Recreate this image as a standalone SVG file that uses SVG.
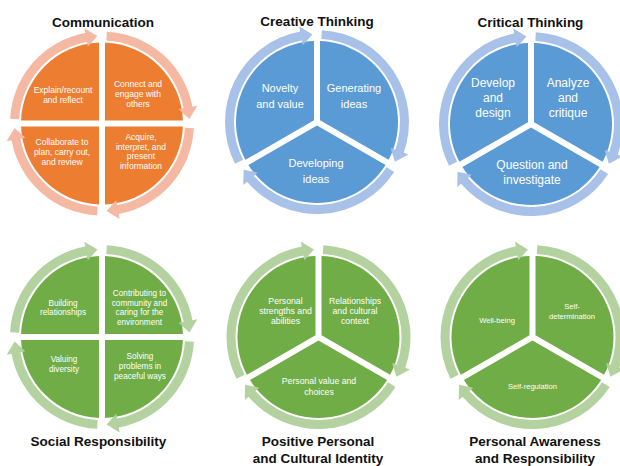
<svg xmlns="http://www.w3.org/2000/svg" width="620" height="466" viewBox="0 0 620 466">
<style>
.po{fill:#ED7D31}
.pb{fill:#5B9BD5}
.pg{fill:#70AD47}
.ro{fill:#F5B8A2}
.rb{fill:#A7C1E8}
.rg{fill:#B3D2A0}
.t{font-family:"Liberation Sans",Arial,sans-serif;fill:#ffffff;text-anchor:middle}
.s85{font-size:8.5px}
.s82{font-size:8.2px}
.s87{font-size:8.7px}
.s76{font-size:7.6px}
.s11{font-size:11px}
.s12{font-size:12px}
.h{font-family:"Liberation Sans",Arial,sans-serif;font-weight:bold;font-size:13.5px;fill:#111111;text-anchor:middle}
</style>
<defs>
<path id="w4" d="M3 3 L80.944 3 A81 81 0 0 1 3 80.944 Z"/>
<path id="w3" d="M1.732 3 L80.944 3 A81 81 0 0 1 -37.874 71.596 Z"/>
<path id="a4" d="M91.874 4.815 A92 92 0 0 1 16.766 90.459 L17.677 95.375 L4.580 87.380 L14.215 76.694 L15.126 81.610 A83 83 0 0 0 82.886 4.344 Z"/>
<path id="a3" d="M91.874 4.815 A92 92 0 0 1 -30.711 86.723 L-32.380 91.436 L-39.724 77.963 L-26.037 73.526 L-27.706 78.239 A83 83 0 0 0 82.886 4.344 Z"/>
</defs>
<rect width="620" height="466" fill="#ffffff"/>

<!-- Communication -->
<g id="communication">
  <text class="h" x="103" y="27">Communication</text>
  <g id="comm-explain">
    <use href="#w4" class="po" transform="translate(102 123.5) rotate(180)"/>
    <text class="t s85" x="63" y="93">Explain/recount</text>
    <text class="t s85" x="63" y="102.5">and reflect</text>
  </g>
  <g id="comm-connect">
    <use href="#w4" class="po" transform="translate(102 123.5) rotate(270)"/>
    <text class="t s85" x="138" y="87">Connect and</text>
    <text class="t s85" x="138" y="97">engage with</text>
    <text class="t s85" x="138" y="107">others</text>
  </g>
  <g id="comm-acquire">
    <use href="#w4" class="po" transform="translate(102 123.5)"/>
    <text class="t s85" x="141" y="139.5">Acquire,</text>
    <text class="t s85" x="141" y="149.5">interpret, and</text>
    <text class="t s85" x="141" y="159">present</text>
    <text class="t s85" x="141" y="168.5">information</text>
  </g>
  <g id="comm-collaborate">
    <use href="#w4" class="po" transform="translate(102 123.5) rotate(90)"/>
    <text class="t s85" x="62" y="145">Collaborate to</text>
    <text class="t s85" x="62" y="155">plan, carry out,</text>
    <text class="t s85" x="62" y="165">and review</text>
  </g>
</g>

<!-- Creative Thinking -->
<g id="creative-thinking">
  <text class="h" x="317" y="26">Creative Thinking</text>
  <g id="ct-novelty">
    <use href="#w3" class="pb" transform="translate(317 122) rotate(150)"/>
    <text class="t s11" x="280" y="92">Novelty</text>
    <text class="t s11" x="280" y="108">and value</text>
  </g>
  <g id="ct-generating">
    <use href="#w3" class="pb" transform="translate(317 122) rotate(270)"/>
    <text class="t s11" x="354" y="92">Generating</text>
    <text class="t s11" x="354" y="108">ideas</text>
  </g>
  <g id="ct-developing">
    <use href="#w3" class="pb" transform="translate(317 122) rotate(30)"/>
    <text class="t s11" x="316" y="167">Developing</text>
    <text class="t s11" x="316" y="183">ideas</text>
  </g>
</g>

<!-- Critical Thinking -->
<g id="critical-thinking">
  <text class="h" x="530.5" y="27">Critical Thinking</text>
  <g id="crt-develop">
    <use href="#w3" class="pb" transform="translate(531 124) rotate(150)"/>
    <text class="t s12" x="493" y="86.5">Develop</text>
    <text class="t s12" x="493" y="101.5">and</text>
    <text class="t s12" x="493" y="116.5">design</text>
  </g>
  <g id="crt-analyze">
    <use href="#w3" class="pb" transform="translate(531 124) rotate(270)"/>
    <text class="t s12" x="568" y="86.5">Analyze</text>
    <text class="t s12" x="568" y="101.5">and</text>
    <text class="t s12" x="568" y="116.5">critique</text>
  </g>
  <g id="crt-question">
    <use href="#w3" class="pb" transform="translate(531 124) rotate(30)"/>
    <text class="t s12" x="532" y="168.5">Question and</text>
    <text class="t s12" x="532" y="184">investigate</text>
  </g>
</g>

<!-- Social Responsibility -->
<g id="social-responsibility">
  <text class="h" x="98.5" y="446">Social Responsibility</text>
  <g id="sr-building">
    <use href="#w4" class="pg" transform="translate(102 337) rotate(180)"/>
    <text class="t s82" x="63" y="305.5">Building</text>
    <text class="t s82" x="63" y="315">relationships</text>
  </g>
  <g id="sr-contributing">
    <use href="#w4" class="pg" transform="translate(102 337) rotate(270)"/>
    <text class="t s82" x="139.5" y="296">Contributing to</text>
    <text class="t s82" x="139.5" y="305.5">community and</text>
    <text class="t s82" x="139.5" y="315">caring for the</text>
    <text class="t s82" x="139.5" y="325">environment</text>
  </g>
  <g id="sr-solving">
    <use href="#w4" class="pg" transform="translate(102 337)"/>
    <text class="t s82" x="140" y="359">Solving</text>
    <text class="t s82" x="140" y="369">problems in</text>
    <text class="t s82" x="140" y="379">peaceful ways</text>
  </g>
  <g id="sr-valuing">
    <use href="#w4" class="pg" transform="translate(102 337) rotate(90)"/>
    <text class="t s82" x="64" y="362">Valuing</text>
    <text class="t s82" x="64" y="372">diversity</text>
  </g>
</g>

<!-- Positive Personal and Cultural Identity -->
<g id="positive-personal-cultural-identity">
  <text class="h" x="318" y="446">Positive Personal</text>
  <text class="h" x="318" y="463">and Cultural Identity</text>
  <g id="pp-strengths">
    <use href="#w3" class="pg" transform="translate(318.5 337) rotate(150)"/>
    <text class="t s87" x="285.5" y="304">Personal</text>
    <text class="t s87" x="285.5" y="314">strengths and</text>
    <text class="t s87" x="285.5" y="324">abilities</text>
  </g>
  <g id="pp-relationships">
    <use href="#w3" class="pg" transform="translate(318.5 337) rotate(270)"/>
    <text class="t s87" x="355" y="304">Relationships</text>
    <text class="t s87" x="355" y="314">and cultural</text>
    <text class="t s87" x="355" y="324">context</text>
  </g>
  <g id="pp-values">
    <use href="#w3" class="pg" transform="translate(318.5 337) rotate(30)"/>
    <text class="t s87" x="319" y="384">Personal value and</text>
    <text class="t s87" x="319" y="395">choices</text>
  </g>
</g>

<!-- Personal Awareness and Responsibility -->
<g id="personal-awareness-responsibility">
  <text class="h" x="535" y="446">Personal Awareness</text>
  <text class="h" x="535" y="463">and Responsibility</text>
  <g id="pa-wellbeing">
    <use href="#w3" class="pg" transform="translate(532.5 337) rotate(150)"/>
    <text class="t s76" x="497" y="322.5">Well-being</text>
  </g>
  <g id="pa-determination">
    <use href="#w3" class="pg" transform="translate(532.5 337) rotate(270)"/>
    <text class="t s76" x="572" y="308.5">Self-</text>
    <text class="t s76" x="572" y="318.5">determination</text>
  </g>
  <g id="pa-regulation">
    <use href="#w3" class="pg" transform="translate(532.5 337) rotate(30)"/>
    <text class="t s76" x="532.5" y="388.5">Self-regulation</text>
  </g>
</g>

<!-- circular arrow connectors -->
<g id="connectors">
  <use href="#a4" class="ro" transform="translate(102 123.5) rotate(180)"/>
  <use href="#a4" class="ro" transform="translate(102 123.5) rotate(270)"/>
  <use href="#a4" class="ro" transform="translate(102 123.5)"/>
  <use href="#a4" class="ro" transform="translate(102 123.5) rotate(90)"/>

  <use href="#a3" class="rb" transform="translate(317 122) rotate(150)"/>
  <use href="#a3" class="rb" transform="translate(317 122) rotate(270)"/>
  <use href="#a3" class="rb" transform="translate(317 122) rotate(30)"/>

  <use href="#a3" class="rb" transform="translate(531 124) rotate(150)"/>
  <use href="#a3" class="rb" transform="translate(531 124) rotate(270)"/>
  <use href="#a3" class="rb" transform="translate(531 124) rotate(30)"/>

  <use href="#a4" class="rg" transform="translate(102 337) rotate(180)"/>
  <use href="#a4" class="rg" transform="translate(102 337) rotate(270)"/>
  <use href="#a4" class="rg" transform="translate(102 337)"/>
  <use href="#a4" class="rg" transform="translate(102 337) rotate(90)"/>

  <use href="#a3" class="rg" transform="translate(318.5 337) rotate(150)"/>
  <use href="#a3" class="rg" transform="translate(318.5 337) rotate(270)"/>
  <use href="#a3" class="rg" transform="translate(318.5 337) rotate(30)"/>

  <use href="#a3" class="rg" transform="translate(532.5 337) rotate(150)"/>
  <use href="#a3" class="rg" transform="translate(532.5 337) rotate(270)"/>
  <use href="#a3" class="rg" transform="translate(532.5 337) rotate(30)"/>
</g>
</svg>
